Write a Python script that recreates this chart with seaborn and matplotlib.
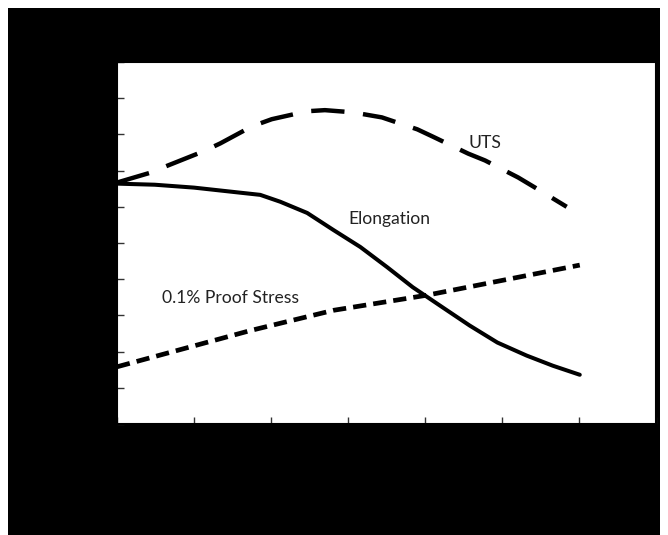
import matplotlib
matplotlib.use("Agg")
import matplotlib.pyplot as plt
from matplotlib.patches import Rectangle
import seaborn as sns
import pandas as pd

# Data
uts_x = [0, 0.43, 0.66, 1.12, 1.34, 1.75, 2.01, 2.47, 2.70, 3.06, 3.44, 3.90, 4.10, 4.56, 4.78, 5.21, 5.43, 5.84]
uts_y = [6.67, 6.94, 7.14, 7.53, 7.75, 8.22, 8.42, 8.64, 8.67, 8.61, 8.47, 8.14, 7.94, 7.47, 7.28, 6.81, 6.53, 6.0]

elong_x = [0, 0.49, 1.0, 1.60, 1.86, 2.12, 2.47, 2.81, 3.16, 3.51, 3.84, 4.23, 4.58, 4.94, 5.32, 5.66, 6.01]
elong_y = [6.64, 6.61, 6.53, 6.39, 6.33, 6.14, 5.83, 5.36, 4.89, 4.33, 3.78, 3.22, 2.72, 2.25, 1.89, 1.61, 1.36]

proof_x = [0, 1.73, 2.81, 4.03, 5.01, 6.01]
proof_y = [1.58, 2.58, 3.14, 3.56, 3.97, 4.39]

x_ticks = [0, 1, 2, 3, 4, 5, 6, 7]
y_ticks = [0, 1, 2, 3, 4, 5, 6, 7, 8, 9, 10]

sns.set_theme(style="white")
plt.rcParams['font.family'] = ['Lato', 'DejaVu Sans']

fig = plt.figure(figsize=(6.68, 5.35), dpi=100)
fig.patch.set_facecolor("white")
fig.patches.append(Rectangle((8 / 668, 0), (660 - 8) / 668, 1 - 8 / 535,
                             transform=fig.transFigure, facecolor="black",
                             edgecolor="none", zorder=-10))

ax = fig.add_axes([117 / 668, 1 - 424 / 535, (656 - 117) / 668, (424 - 62) / 535])
ax.set_zorder(5)
ax.set_facecolor("white")

df_uts = pd.DataFrame({"x": uts_x, "y": uts_y})
df_el = pd.DataFrame({"x": elong_x, "y": elong_y})
df_pr = pd.DataFrame({"x": proof_x, "y": proof_y})

sns.lineplot(data=df_uts, x="x", y="y", ax=ax, color="black", linewidth=3.2, sort=False)
ax.lines[-1].set_dashes([7.5, 4.2])
ax.lines[-1].set_solid_joinstyle("round")
sns.lineplot(data=df_el, x="x", y="y", ax=ax, color="black", linewidth=2.9, sort=False)
ax.lines[-1].set_solid_joinstyle("round")
sns.lineplot(data=df_pr, x="x", y="y", ax=ax, color="black", linewidth=3.4, sort=False)
ax.lines[-1].set_dashes([2.8, 1.5])

ax.set_xlim(0, 7)
ax.set_ylim(0, 10)
ax.set_xticks(x_ticks)
ax.set_yticks(y_ticks)
ax.tick_params(axis="both", direction="in", length=5, width=1, color="#333333",
               labelcolor="black", labelsize=9, bottom=True, left=True)
ax.set_xlabel("")
ax.set_ylabel("")
for s in ax.spines.values():
    s.set_visible(True)
    s.set_color("black")
    s.set_linewidth(1.5)

ax.text(3.01, 5.65, "Elongation", fontsize=12.6, color="#222222", va="center", ha="left")
ax.text(4.56, 7.75, "UTS", fontsize=12.6, color="#222222", va="center", ha="left")
ax.text(0.59, 3.47, "0.1% Proof Stress", fontsize=12.6, color="#222222", va="center", ha="left")

fig.savefig("out.png", dpi=100, facecolor=fig.get_facecolor())
